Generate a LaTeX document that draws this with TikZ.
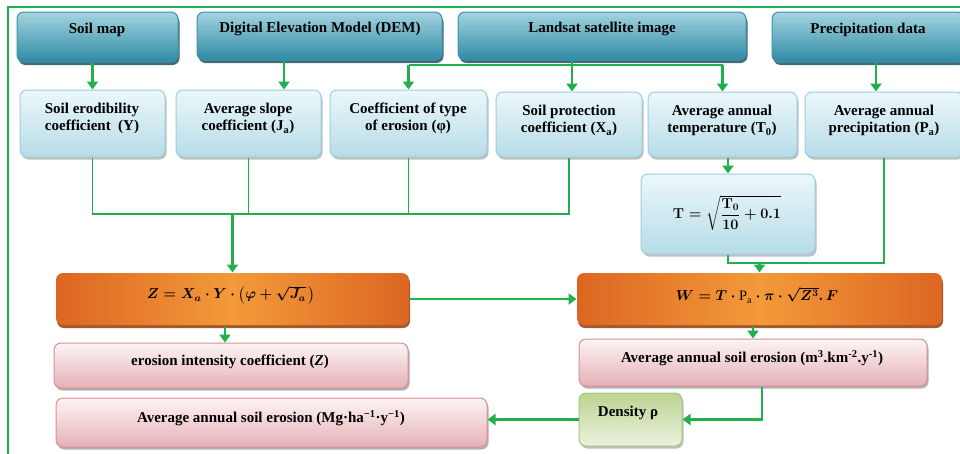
\documentclass[tikz,border=0pt]{standalone}
\usepackage{amsmath,bm}
\usepackage{fontspec}
\setmainfont{Liberation Serif}
\usetikzlibrary{arrows.meta,shadows}
\definecolor{lgreen}{HTML}{22B04C}
\definecolor{headTop}{HTML}{A4D4E0}
\definecolor{headBot}{HTML}{2E8AA4}
\definecolor{headDraw}{HTML}{3C93AB}
\definecolor{rowTop}{HTML}{ECF7FA}
\definecolor{rowBot}{HTML}{B6DCE8}
\definecolor{rowDraw}{HTML}{9CCFE0}
\definecolor{orDark}{HTML}{DC6621}
\definecolor{orLight}{HTML}{F39A3A}
\definecolor{orShadow}{HTML}{9C4714}
\definecolor{pkTop}{HTML}{FDF4F5}
\definecolor{pkBot}{HTML}{E5B1B5}
\definecolor{pkDraw}{HTML}{D98E94}
\definecolor{gnTop}{HTML}{BCD392}
\definecolor{gnBot}{HTML}{EAF2DD}
\definecolor{gnDraw}{HTML}{A8C67E}
\newsavebox\Tbx
\newsavebox\Zbx
\newsavebox\Wbx
\begin{document}
\sbox\Tbx{\fontsize{14.4}{16}\selectfont\boldmath $\mathbf{T} = \sqrt{\dfrac{\mathbf{T_0}}{\mathbf{10}} + \mathbf{0.1}}$}%
\sbox\Zbx{\fontsize{14.4}{16}\selectfont\boldmath $Z = X_a \cdot Y \cdot \left(\varphi + \sqrt{J_a}\,\right)$}%
\sbox\Wbx{\fontsize{14.4}{16}\selectfont\boldmath $W = T\cdot\textnormal{\mdseries P\textsubscript{a}}\cdot \pi \cdot \sqrt{Z^3}.\,F$}%
\begin{tikzpicture}[x=1pt,y=-1pt,
  base/.style={rounded corners=7pt, inner sep=0pt, line width=1pt},
  head/.style={base, draw=headDraw, top color=headTop, bottom color=headBot,
    drop shadow={shadow xshift=1.5pt, shadow yshift=-3pt, fill=headBot!50!black, opacity=0.8}},
  rowbox/.style={base, draw=rowDraw, top color=rowTop, bottom color=rowBot,
    drop shadow={shadow xshift=1.5pt, shadow yshift=-2.5pt, fill=black, opacity=0.25}},
  orbox/.style={base, draw=none, left color=orDark, right color=orDark, middle color=orLight,
    drop shadow={shadow xshift=1pt, shadow yshift=-3pt, fill=orShadow, opacity=0.9}},
  pkbox/.style={base, draw=pkDraw, top color=pkTop, bottom color=pkBot,
    drop shadow={shadow xshift=1.5pt, shadow yshift=-2.5pt, fill=black, opacity=0.3}},
  gnbox/.style={base, draw=gnDraw, top color=gnTop, bottom color=gnBot,
    drop shadow={shadow xshift=1.5pt, shadow yshift=-2.5pt, fill=black, opacity=0.25}},
  txt/.style={font=\bfseries\fontsize{15}{17.5}\selectfont, align=center, inner sep=0pt},
  fmla/.style={inner sep=0pt},
  arr/.style={draw=lgreen, line width=2.4pt, -{Triangle[width=11pt,length=8pt]}},
  ln/.style={draw=lgreen, line width=2.4pt},
  thinln/.style={draw=lgreen, line width=1.6pt},
]
\useasboundingbox (0,0) rectangle (960,453);
% frame
\draw[lgreen, line width=1.6pt] (8,460) -- (8,7) -- (965,7);

% top row
\node[head, minimum width=161pt, minimum height=50pt] (sm) at (97.5,37) {};
\node[head, minimum width=245pt, minimum height=48pt] (dem) at (319.5,36) {};
\node[head, minimum width=288pt, minimum height=48pt] (ls) at (602,36) {};
\node[head, minimum width=192pt, minimum height=50pt] (pd) at (868,37) {};
\node[txt] (smt) at (97,30) {Soil map};
\node[txt] (demt) at (320,29) {Digital Elevation Model (DEM)};
\node[txt] (lst) at (602,29) {Landsat satellite image};
\node[txt] (pdt) at (868,30) {Precipitation data};

% second row
\node[rowbox, minimum width=145pt, minimum height=67pt] (se) at (92.5,123.5) {};
\node[rowbox, minimum width=145pt, minimum height=67pt] (as) at (248.5,123.5) {};
\node[rowbox, minimum width=157pt, minimum height=67pt] (ct) at (408.5,123.5) {};
\node[rowbox, minimum width=146pt, minimum height=65pt] (sp) at (569,124.5) {};
\node[rowbox, minimum width=149pt, minimum height=65pt] (tmp) at (722.5,124.5) {};
\node[rowbox, minimum width=158pt, minimum height=65pt] (ap) at (884,124.5) {};
\node[txt] (set) at (92,118.5) {Soil erodibility\\coefficient~~(Y)};
\node[txt] (ast) at (248,118.5) {Average slope\\coefficient (J\textsubscript{a})};
\node[txt] (ctt) at (408,118.5) {Coefficient of type\\of erosion (φ)};
\node[txt] (spt) at (569,120.5) {Soil protection\\coefficient (X\textsubscript{a})};
\node[txt] (tmpt) at (722,120.5) {Average annual\\temperature (T\textsubscript{0})};
\node[txt] (apt) at (884,120.5) {Average annual\\precipitation (P\textsubscript{a})};

% T box
\node[rowbox, minimum width=174pt, minimum height=80pt] (tb) at (728,214) {};
\node[fmla] (tbt) at (727,213) {\usebox\Tbx};

% orange formula boxes
\node[orbox, minimum width=353pt, minimum height=52pt] (zb) at (232.5,299) {};
\node[orbox, minimum width=365pt, minimum height=52pt] (wb) at (759.5,299) {};
\node[fmla] (zbt) at (231,295) {\usebox\Zbx};
\node[fmla] (wbt) at (757,295) {\usebox\Wbx};

% pink result boxes
\node[pkbox, minimum width=354pt, minimum height=45pt] (ei) at (231,365.5) {};
\node[pkbox, minimum width=431pt, minimum height=49pt] (mg) at (271.5,422.5) {};
\node[pkbox, minimum width=348pt, minimum height=47pt] (m3) at (753,362.5) {};
\node[gnbox, minimum width=103pt, minimum height=53pt] (dens) at (630.5,419.5) {};
\node[txt] (eit) at (230,362) {erosion intensity coefficient (\textit{Z})};
\node[txt] (mgt) at (271,418) {Average annual soil erosion (Mg·ha\textsuperscript{−1}·y\textsuperscript{−1})};
\node[txt] (m3t) at (752,358) {Average annual soil erosion (m\textsuperscript{3}.km\textsuperscript{-2}.y\textsuperscript{-1})};
\node[txt] (denst) at (628,413) {Density ρ};

% helper coordinates
\coordinate (c1) at (284,0);
\coordinate (c2) at (572,65);
\coordinate (c3) at (876,0);
\coordinate (c4) at (0,214);
\coordinate (c5) at (225,0);
\coordinate (c6) at (0,263);
\coordinate (c7) at (762,0);

% connectors
\draw[arr] (sm.south -| se.north) -- (se.north);
\draw[arr] (dem.south -| c1) -- (as.north -| c1);
\draw[ln] (ls.south -| c2) -- (c2);
\draw[ln] (c2 -| ct.north) -- (c2 -| tmp.north);
\draw[arr] (c2 -| ct.north) -- (ct.north);
\draw[arr] (c2) -- (sp.north -| c2);
\draw[arr] (c2 -| tmp.north) -- (tmp.north);
\draw[arr] (pd.south -| c3) -- (ap.north -| c3);

\draw[thinln] (se.south) |- (sp.south |- c4) -- (sp.south);
\draw[thinln] (as.south) -- (as.south |- c4);
\draw[thinln] (ct.south) -- (ct.south |- c4);
\draw[arr] (zb.north |- c4) -- (zb.north);

\draw[arr] (tmp.south -| tb.north) -- (tb.north);
\draw[thinln] (tb.south) |- (ap.south |- c6) -- (ap.south);
\draw[arr] (wb.north |- c6) -- (wb.north);

\draw[arr] (zb.east) -- (wb.west);
\draw[arr] (zb.south -| c5) -- (ei.north -| c5);
\draw[arr] (wb.south -| m3.north) -- (m3.north);
\draw[arr] (m3.south -| c7) |- (dens.east);
\draw[arr] (dens.west) -- (dens.west -| mg.east);
\end{tikzpicture}
\end{document}
